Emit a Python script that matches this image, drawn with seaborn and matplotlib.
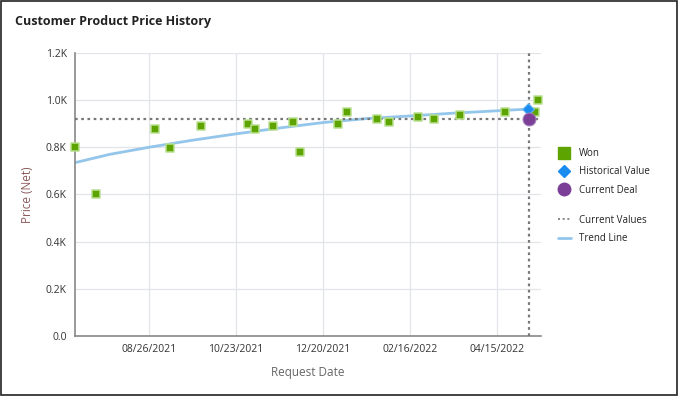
import pandas as pd
import matplotlib.pyplot as plt
import matplotlib.dates as mdates
import seaborn as sns
from matplotlib.lines import Line2D
from matplotlib.patches import Rectangle

# ---- data ----
won_dates = ["2021-07-08", "2021-07-22", "2021-08-30", "2021-09-09", "2021-09-30",
             "2021-10-31", "2021-11-05", "2021-11-17", "2021-11-30", "2021-12-05",
             "2021-12-30", "2022-01-05", "2022-01-25", "2022-02-02", "2022-02-21",
             "2022-03-04", "2022-03-21", "2022-04-20", "2022-05-10", "2022-05-12"]
won_prices = [800, 600, 879, 798, 890,
              900, 879, 890, 907, 782,
              900, 951, 921, 909, 929,
              921, 938, 951, 951, 1002]

hist_date = ["2022-05-05"]
hist_price = [963]

current_date = ["2022-05-06"]
current_price = [920]

trend_dates = ["2021-07-08", "2021-07-31", "2021-08-26", "2021-09-24", "2021-10-23",
               "2021-11-21", "2021-12-20", "2022-01-18", "2022-02-16", "2022-03-17",
               "2022-04-15", "2022-05-05"]
trend_prices = [735, 770, 800, 830, 857, 882, 905, 922, 933, 945, 955, 962]

tick_dates = ["2021-08-26", "2021-10-23", "2021-12-20", "2022-02-16", "2022-04-15"]
y_ticks = [0, 200, 400, 600, 800, 1000, 1200]
y_labels = ["0.0", "0.2K", "0.4K", "0.6K", "0.8K", "1.0K", "1.2K"]

won = pd.DataFrame({"date": pd.to_datetime(won_dates), "price": won_prices})
trend = pd.DataFrame({"date": pd.to_datetime(trend_dates), "price": trend_prices})

sns.set_theme(style="white")
plt.rcParams["font.family"] = ["Open Sans", "DejaVu Sans"]

fig = plt.figure(figsize=(6.78, 3.96), dpi=100)
ax = fig.add_axes([0.1106, 0.1515, 0.6874, 0.7147])

# frame round the whole card
fig.patches.append(Rectangle((0.0015, 0.0025), 0.997, 0.995, transform=fig.transFigure,
                             fill=False, edgecolor="#222222", linewidth=1.2))

fig.text(0.022, 0.945, "Customer Product Price History", fontsize=9, fontweight="bold",
         color="#222222", va="center", ha="left")

ax.grid(True, color="#e1e4e8", linewidth=0.9)
ax.set_axisbelow(True)

sns.lineplot(data=trend, x="date", y="price", ax=ax, color="#93c6ea", linewidth=2, zorder=2)
ax.axhline(current_price[0], color="#777777", linestyle=(0, (1.2, 1.6)), linewidth=1.6, zorder=3)
ax.axvline(pd.to_datetime(current_date[0]), color="#777777", linestyle=(0, (1.2, 1.6)),
           linewidth=1.6, zorder=3)
sns.scatterplot(data=won, x="date", y="price", ax=ax, marker="s", s=40, color="#5ea400",
                edgecolor="#b8e090", linewidth=1.1, zorder=4, clip_on=False)
ax.scatter(pd.to_datetime(hist_date), hist_price, marker="D", s=36, color="#1a8cf0",
           edgecolor="#6fb8f5", linewidth=0.8, zorder=5)
ax.scatter(pd.to_datetime(current_date), current_price, marker="o", s=85, color="#7b3f98",
           edgecolor="#a27bb8", linewidth=0.8, zorder=5)

ax.set_xlim(pd.Timestamp("2021-07-08"), pd.Timestamp("2022-05-14"))
ax.set_ylim(0, 1200)
ax.set_xticks(pd.to_datetime(tick_dates))
ax.xaxis.set_major_formatter(mdates.DateFormatter("%m/%d/%Y"))
ax.set_yticks(y_ticks)
ax.set_yticklabels(y_labels)
ax.tick_params(axis="both", labelsize=7.5, colors="#333333", length=0, pad=6)

ax.set_xlabel("Request Date", fontsize=8.5, color="#666666", labelpad=8)
ax.set_ylabel("Price (Net)", fontsize=8.5, color="#8a5a5a", labelpad=8)

sns.despine(ax=ax)
ax.spines["left"].set_color("#888888")
ax.spines["bottom"].set_color("#888888")
ax.spines["left"].set_linewidth(1.2)
ax.spines["bottom"].set_linewidth(1.2)

# legend: markers block, then lines block
marker_handles = [
    Line2D([], [], marker="s", linestyle="none", markersize=8, color="#5ea400"),
    Line2D([], [], marker="D", linestyle="none", markersize=6, color="#1a8cf0"),
    Line2D([], [], marker="o", linestyle="none", markersize=9, color="#7b3f98"),
]
line_handles = [
    Line2D([], [], color="#777777", linestyle=(0, (1.2, 1.6)), linewidth=1.2),
    Line2D([], [], color="#93c6ea", linewidth=2),
]
legend_kw = dict(loc="upper left", frameon=False, fontsize=7, handlelength=1.3,
                 handletextpad=0.9, labelspacing=0.75, labelcolor="#222222")
fig.legend(marker_handles, ["Won", "Historical Value", "Current Deal"],
           bbox_to_anchor=(0.81, 0.648), **legend_kw)
fig.legend(line_handles, ["Current Values", "Trend Line"],
           bbox_to_anchor=(0.81, 0.48), **legend_kw)

fig.savefig("out.png", dpi=100)
